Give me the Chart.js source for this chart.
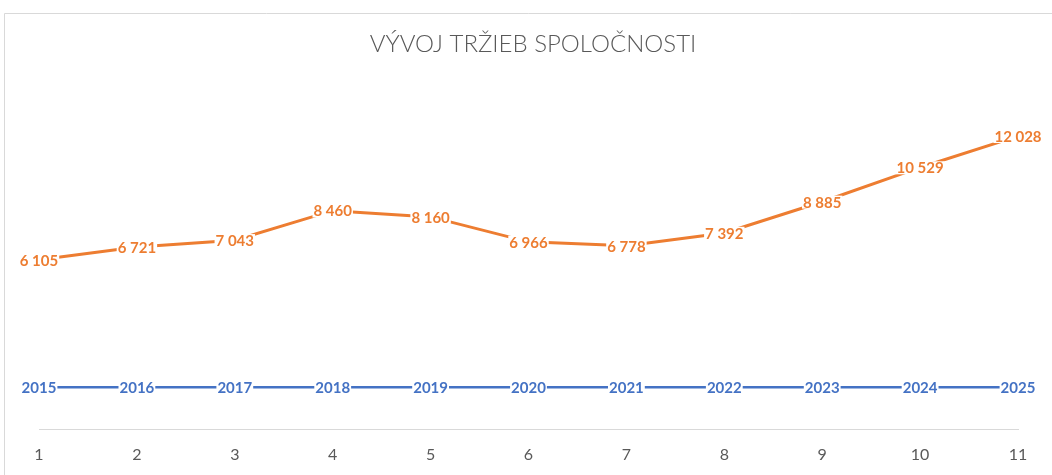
<!DOCTYPE html>
<html>
<head>
<meta charset="utf-8">
<script src="https://cdn.jsdelivr.net/npm/chart.js@4.4.1/dist/chart.umd.min.js"></script>
<style>
  html, body { margin: 0; padding: 0; background: #ffffff; }
  #wrap { position: relative; width: 1052px; height: 475px; overflow: hidden; }
</style>
</head>
<body>
<div id="wrap"><canvas id="c" width="1052" height="475"></canvas></div>
<script>
const titleText = 'VÝVOJ TRŽIEB SPOLOČNOSTI';
const categories = ['1', '2', '3', '4', '5', '6', '7', '8', '9', '10', '11'];
const years = [2015, 2016, 2017, 2018, 2019, 2020, 2021, 2022, 2023, 2024, 2025];
const revenue = [6105, 6721, 7043, 8460, 8160, 6966, 6778, 7392, 8885, 10529, 12028];

function fmtSpace(v) {
  return String(v).replace(/\B(?=(\d{3})+(?!\d))/g, ' ');
}

const frame = {
  id: 'frame',
  beforeDraw(chart) {
    const ctx = chart.ctx;
    ctx.save();
    ctx.fillStyle = '#ffffff';
    ctx.fillRect(0, 0, chart.width, chart.height);
    ctx.strokeStyle = '#d9d9d9';
    ctx.lineWidth = 1;
    ctx.beginPath();
    ctx.moveTo(4.5, chart.height + 5);
    ctx.lineTo(4.5, 13.5);
    ctx.lineTo(chart.width + 5, 13.5);
    ctx.stroke();
    // title
    ctx.fillStyle = '#595959';
    ctx.font = '300 24px Lato';
    ctx.textAlign = 'center';
    ctx.textBaseline = 'alphabetic';
    ctx.fillText(titleText, 533, 52);
    ctx.restore();
  }
};

const labelsPlugin = {
  id: 'pointLabels',
  afterDatasetsDraw(chart) {
    const ctx = chart.ctx;
    ctx.save();
    ctx.font = 'bold 15px Lato';
    ctx.textAlign = 'center';
    ctx.textBaseline = 'middle';
    chart.data.datasets.forEach((ds, di) => {
      const meta = chart.getDatasetMeta(di);
      meta.data.forEach((pt, i) => {
        const txt = di === 0 ? String(ds.data[i]) : fmtSpace(ds.data[i]);
        const m = ctx.measureText(txt);
        const x = pt.x, y = pt.y + 1;
        ctx.fillStyle = '#ffffff';
        ctx.fillRect(x - m.width / 2 - 1, y - m.actualBoundingBoxAscent - 1,
                     m.width + 2, m.actualBoundingBoxAscent + m.actualBoundingBoxDescent + 2);
        ctx.fillStyle = ds.borderColor;
        ctx.fillText(txt, x, y);
      });
    });
    ctx.restore();
  }
};

new Chart(document.getElementById('c'), {
  type: 'line',
  data: {
    labels: categories,
    datasets: [
      {
        label: 'Rok',
        data: years,
        yAxisID: 'y2',
        borderColor: '#4472C4',
        backgroundColor: '#4472C4',
        borderWidth: 2.5,
        pointRadius: 0,
        tension: 0
      },
      {
        label: 'Tržby',
        data: revenue,
        yAxisID: 'y',
        borderColor: '#ED7D31',
        backgroundColor: '#ED7D31',
        borderWidth: 3,
        pointRadius: 0,
        tension: 0
      }
    ]
  },
  options: {
    responsive: false,
    animation: false,
    devicePixelRatio: 1,
    layout: { padding: { left: 39, right: 34, top: 95, bottom: 9 } },
    plugins: {
      legend: { display: false },
      tooltip: { enabled: false },
      title: { display: false }
    },
    scales: {
      x: {
        type: 'category',
        offset: false,
        grid: { display: false, drawTicks: false },
        border: { display: true, color: '#d9d9d9', width: 1 },
        ticks: {
          color: '#595959',
          font: { family: 'Lato', size: 16 },
          padding: 16,
          maxRotation: 0,
          autoSkip: false
        },
        afterFit(scale) { scale.height = 37; }
      },
      y: {
        display: false,
        min: -2000,
        max: 14000
      },
      y2: {
        display: false,
        min: 0,
        max: 16160
      }
    }
  },
  plugins: [frame, labelsPlugin]
});
</script>
</body>
</html>
